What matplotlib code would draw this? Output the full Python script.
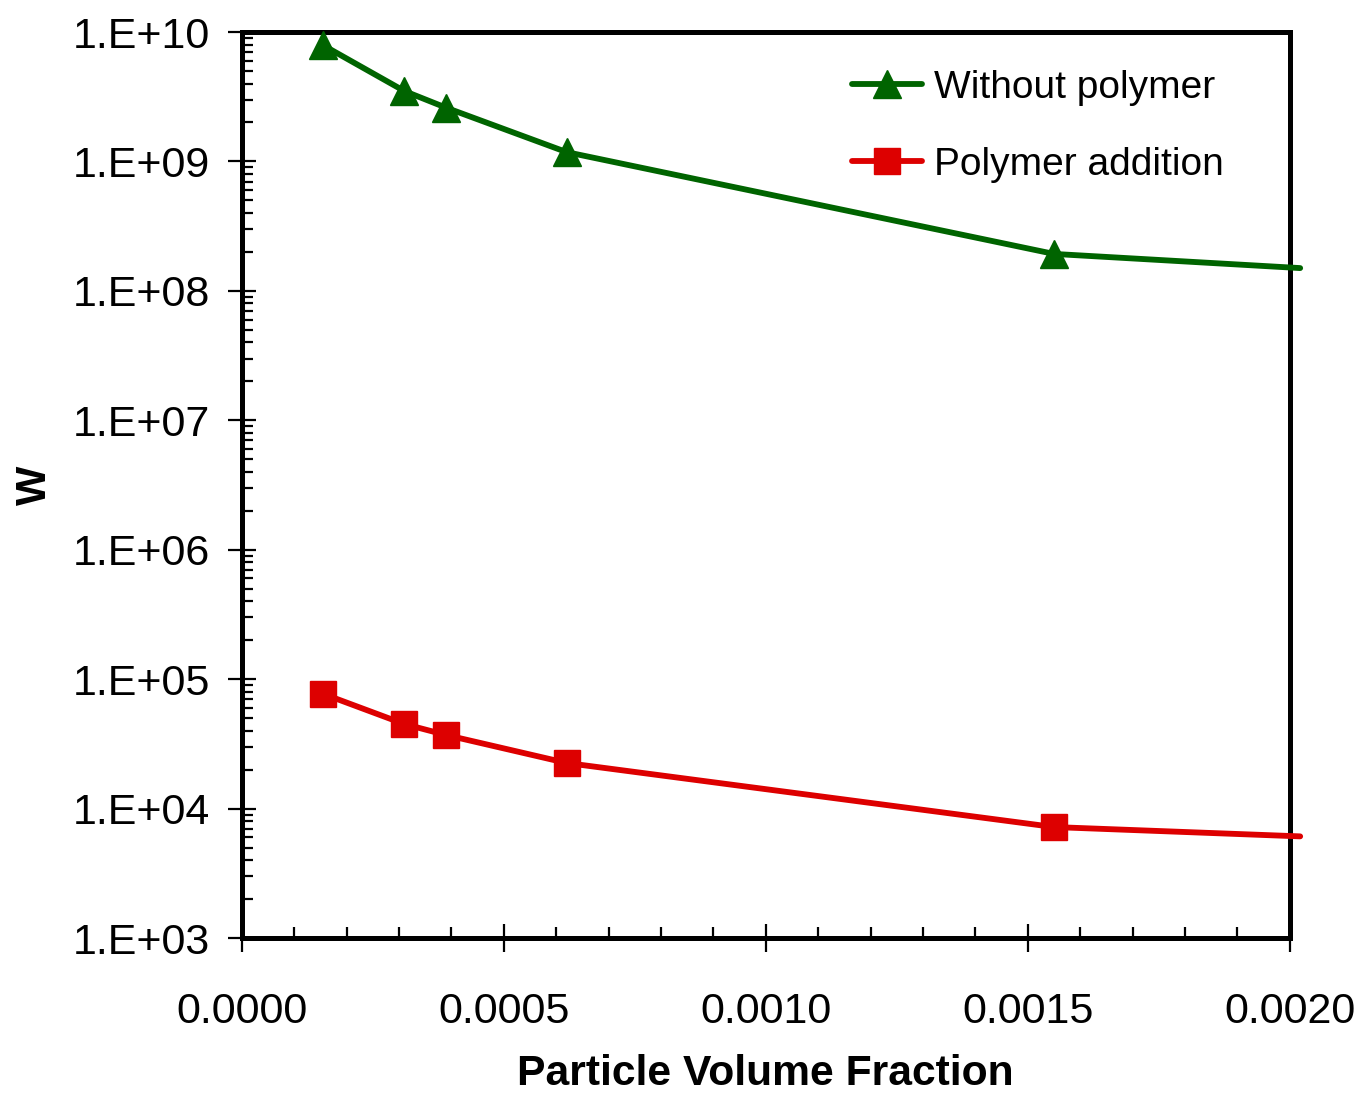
import matplotlib
matplotlib.use("Agg")
import matplotlib.pyplot as plt
from matplotlib.ticker import LogLocator, MultipleLocator, FixedLocator, NullFormatter

plt.rcParams['font.family'] = ['Liberation Sans', 'DejaVu Sans']

# Particle volume fraction and stability ratio W
phi = [0.000155, 0.00031, 0.00039, 0.00062, 0.00155, 0.00202]
w_without = [7.9e9, 3.5e9, 2.6e9, 1.18e9, 1.93e8, 1.5e8]
w_polymer = [7.7e4, 4.5e4, 3.7e4, 2.25e4, 7.2e3, 6.1e3]

x_ticks = [0.0, 0.0005, 0.0010, 0.0015, 0.0020]
x_tick_labels = ["0.0000", "0.0005", "0.0010", "0.0015", "0.0020"]
y_ticks = [1e3, 1e4, 1e5, 1e6, 1e7, 1e8, 1e9, 1e10]
y_tick_labels = ["1.E+03", "1.E+04", "1.E+05", "1.E+06", "1.E+07", "1.E+08", "1.E+09", "1.E+10"]

green = "#006400"
red = "#dd0000"

fig = plt.figure(figsize=(13.59, 10.93), dpi=100)
ax = fig.add_axes([0.178, 0.1418, 0.771, 0.8289])

marked = list(range(len(phi) - 1))
ax.plot(phi, w_without, color=green, lw=4.2, marker="^", ms=20,
        markevery=marked, clip_on=False, solid_capstyle="round",
        label="Without polymer", zorder=3)
ax.plot(phi, w_polymer, color=red, lw=4.2, marker="s", ms=18.5,
        markevery=marked, clip_on=False, solid_capstyle="round",
        label="Polymer addition", zorder=3)

ax.set_yscale("log")
ax.set_xlim(0, 0.002)
ax.set_ylim(1e3, 1e10)

ax.xaxis.set_major_locator(FixedLocator(x_ticks))
ax.set_xticklabels(x_tick_labels)
ax.xaxis.set_minor_locator(MultipleLocator(0.0001))
ax.yaxis.set_major_locator(FixedLocator(y_ticks))
ax.set_yticklabels(y_tick_labels)
ax.yaxis.set_minor_locator(LogLocator(base=10, subs=range(2, 10), numticks=20))
ax.yaxis.set_minor_formatter(NullFormatter())

ax.tick_params(axis="both", which="major", direction="inout", length=20, width=1.6,
               labelsize=31, top=False, right=False)
ax.tick_params(axis="x", which="major", pad=29)
ax.tick_params(axis="y", which="major", pad=13)
ax.tick_params(axis="both", which="minor", direction="in", length=8, width=1.6,
               top=False, right=False)

for s in ax.spines.values():
    s.set_linewidth(3.6)

ax.set_xlabel("Particle Volume Fraction", fontsize=30.7, fontweight="bold", labelpad=16)
ax.set_ylabel("W", fontsize=30, fontweight="bold", labelpad=13)

leg = ax.legend(loc="upper right", bbox_to_anchor=(0.959, 0.984), frameon=False,
                fontsize=28, handlelength=1.8, handletextpad=0.3, labelspacing=1.05,
                borderaxespad=0.2)

fig.savefig("out.png", dpi=100)
